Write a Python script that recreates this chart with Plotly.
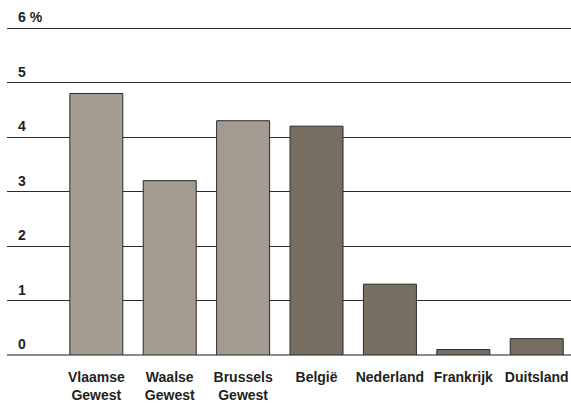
import plotly.graph_objects as go

regions = ["Vlaamse<br>Gewest", "Waalse<br>Gewest", "Brussels<br>Gewest", "België",
           "Nederland", "Frankrijk", "Duitsland"]
values = [4.8, 3.2, 4.3, 4.2, 1.3, 0.1, 0.3]
is_region = [True, True, True, False, False, False, False]

y_ticks = [0, 1, 2, 3, 4, 5, 6]
y_tick_labels = ["0", "1", "2", "3", "4", "5", "6 %"]

LIGHT = "#a39b8f"
DARK = "#766e61"
TEXT = "#231f20"
FONT = "Liberation Sans, Arial, sans-serif"

colors = [LIGHT if r else DARK for r in is_region]
xs = list(range(len(regions)))

fig = go.Figure()
fig.add_trace(go.Bar(
    x=xs, y=values,
    marker=dict(color=colors, line=dict(color="#2b2b2b", width=1)),
    showlegend=False,
    hoverinfo="skip",
))

# y labels sit above their gridline, flush left
for v, lab in zip(y_ticks, y_tick_labels):
    fig.add_annotation(
        xref="paper", yref="y", x=0, y=v, text="<b>" + lab + "</b>",
        showarrow=False, xanchor="left", yanchor="middle",
        xshift=9, yshift=11,
        font=dict(family=FONT, size=14, color=TEXT),
    )

fig.update_layout(
    width=571, height=403,
    margin=dict(l=7, r=0, t=27, b=48),
    paper_bgcolor="white", plot_bgcolor="white",
    bargap=0.278,
    font=dict(family=FONT, size=14, color=TEXT),
)
fig.update_xaxes(
    range=[-1.217, 6.467],
    tickvals=xs, ticktext=["<b>" + r + "</b>" for r in regions],
    showgrid=False, showline=False, zeroline=False, ticks="",
    ticklabelstandoff=12,
    tickfont=dict(family=FONT, size=14, color=TEXT),
)
fig.update_yaxes(
    range=[0, 6.02], tickvals=y_ticks, showticklabels=False,
    showgrid=True, gridcolor="#2b2b2b", gridwidth=1,
    zeroline=True, zerolinecolor="#8c8c8c", zerolinewidth=2,
    showline=False,
)

# drop the default body margin so the figure fills the window exactly
fig.write_html(
    "out.html",
    config={"displayModeBar": False},
    post_script="document.body.style.margin='0';document.body.style.overflow='hidden';",
)
